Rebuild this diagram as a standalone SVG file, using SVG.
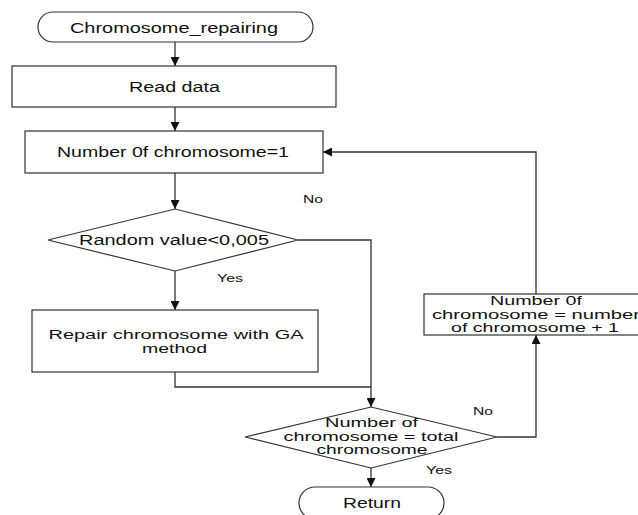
<svg xmlns="http://www.w3.org/2000/svg" width="638" height="515" viewBox="0 0 638 515">
<style>
.s{fill:#fff;stroke:#333;stroke-width:1.2}
.c{fill:none;stroke:#333;stroke-width:1.3}
.t{font-family:"Liberation Sans",Arial,sans-serif;font-size:14px;fill:#111;text-anchor:middle}
.m{font-family:"Liberation Sans",Arial,sans-serif;font-size:12.5px;fill:#111;text-anchor:middle}
.l{font-family:"Liberation Sans",Arial,sans-serif;font-size:10px;fill:#111;text-anchor:middle}
</style>
<defs>
<marker id="a" markerUnits="userSpaceOnUse" markerWidth="9" markerHeight="9" refX="9" refY="4.5" orient="auto" viewBox="0 0 9 9">
<path d="M0,0 L9,4.5 L0,9 z" fill="#111"/>
</marker>
</defs>
<rect width="638" height="515" fill="#fff"/>
<g id="connectors">
<line class="c" x1="175" y1="42" x2="175" y2="66" marker-end="url(#a)"/>
<line class="c" x1="175" y1="107" x2="175" y2="131" marker-end="url(#a)"/>
<line class="c" x1="175" y1="173" x2="175" y2="209" marker-end="url(#a)"/>
<line class="c" x1="175" y1="271" x2="175" y2="310" marker-end="url(#a)"/>
<polyline class="c" points="298,240 371,240 371,407" marker-end="url(#a)"/>
<polyline class="c" points="175,372 175,387 371,387"/>
<polyline class="c" points="497,437 536,437 536,335" marker-end="url(#a)"/>
<polyline class="c" points="536,294 536,152 323,152" marker-end="url(#a)"/>
<line class="c" x1="371" y1="468" x2="371" y2="487" marker-end="url(#a)"/>
</g>
<g id="start">
<rect class="s" x="38" y="12" width="275" height="30" rx="15" ry="15"/>
<text class="t" x="174" y="33" textLength="208" lengthAdjust="spacingAndGlyphs">Chromosome_repairing</text>
</g>
<g id="read">
<rect class="s" x="12" y="66" width="324" height="41"/>
<text class="t" x="174.5" y="92" textLength="91" lengthAdjust="spacingAndGlyphs">Read data</text>
</g>
<g id="init">
<rect class="s" x="25" y="131" width="298" height="42"/>
<text class="t" x="173" y="157" textLength="232" lengthAdjust="spacingAndGlyphs">Number 0f chromosome=1</text>
</g>
<g id="random">
<polygon class="s" points="48,240 175,209 298,240 175,271"/>
<text class="t" x="174" y="245" textLength="190" lengthAdjust="spacingAndGlyphs">Random value&lt;0,005</text>
</g>
<g id="repair">
<rect class="s" x="32" y="310" width="286" height="62"/>
<text class="m" x="176" y="339" textLength="255" lengthAdjust="spacingAndGlyphs">Repair chromosome with GA</text>
<text class="m" x="174.5" y="353" textLength="65" lengthAdjust="spacingAndGlyphs">method</text>
</g>
<g id="check">
<polygon class="s" points="245,437 371,407 497,437 371,468"/>
<text class="m" x="371.5" y="427" textLength="93" lengthAdjust="spacingAndGlyphs">Number of</text>
<text class="m" x="371" y="441" textLength="175" lengthAdjust="spacingAndGlyphs">chromosome = total</text>
<text class="m" x="372" y="454" textLength="111" lengthAdjust="spacingAndGlyphs">chromosome</text>
</g>
<g id="increment">
<rect class="s" x="424" y="294" width="224" height="41"/>
<text class="m" x="536" y="305" textLength="92" lengthAdjust="spacingAndGlyphs">Number 0f</text>
<text class="m" x="536" y="319" textLength="208" lengthAdjust="spacingAndGlyphs">chromosome = number</text>
<text class="m" x="535" y="332" textLength="168" lengthAdjust="spacingAndGlyphs">of chromosome + 1</text>
</g>
<g id="return">
<rect class="s" x="299" y="487" width="145" height="32" rx="16" ry="16"/>
<text class="t" x="372" y="508" textLength="58" lengthAdjust="spacingAndGlyphs">Return</text>
</g>
<g id="labels">
<text class="l" x="313" y="203" textLength="20" lengthAdjust="spacingAndGlyphs">No</text>
<text class="l" x="230" y="282" textLength="26" lengthAdjust="spacingAndGlyphs">Yes</text>
<text class="l" x="483" y="415" textLength="20" lengthAdjust="spacingAndGlyphs">No</text>
<text class="l" x="439" y="474" textLength="26" lengthAdjust="spacingAndGlyphs">Yes</text>
</g>
</svg>
